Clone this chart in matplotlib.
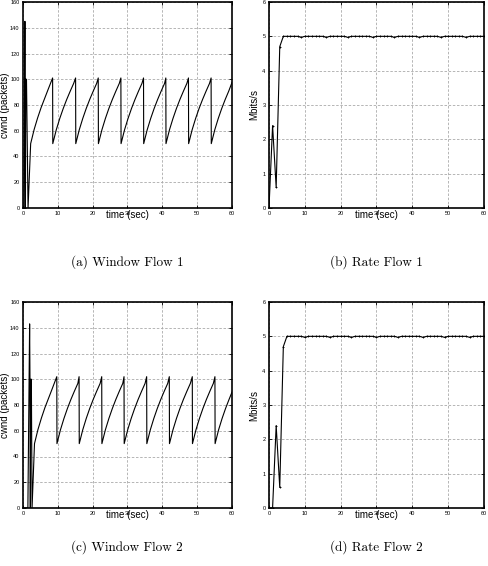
import matplotlib.pyplot as plt

# window flow 1 (time sec, cwnd packets)
win1_t = [0, 0.3, 0.55, 0.6, 0.7, 0.8, 1.0, 1.45, 2.2, 3.2, 4.2, 5.2, 6.2, 7.2, 8.5,
          8.55, 9.55, 10.55, 11.55, 12.55, 13.55, 14.55, 15.1,
          15.15, 16.15, 17.15, 18.15, 19.15, 20.15, 21.15, 21.6,
          21.65, 22.65, 23.65, 24.65, 25.65, 26.65, 27.65, 28.1,
          28.15, 29.15, 30.15, 31.15, 32.15, 33.15, 34.15, 34.6,
          34.65, 35.65, 36.65, 37.65, 38.65, 39.65, 40.65, 41.0,
          41.05, 42.05, 43.05, 44.05, 45.05, 46.05, 47.05, 47.5,
          47.55, 48.55, 49.55, 50.55, 51.55, 52.55, 53.55, 54.0,
          54.05, 55.05, 56.05, 57.05, 58.05, 59.05, 60.0]
win1_w = [0, 0, 145, 100, 0, 100, 100, 0, 50, 61, 70, 78, 85, 92, 101,
          50, 60.7, 69.5, 77.3, 84.3, 90.7, 96.8, 101,
          50, 60.7, 69.5, 77.3, 84.3, 90.7, 96.8, 101,
          50, 60.7, 69.5, 77.3, 84.3, 90.7, 96.8, 101,
          50, 60.7, 69.5, 77.3, 84.3, 90.7, 96.8, 101,
          50, 60.7, 69.5, 77.3, 84.3, 90.7, 96.8, 101,
          50, 60.7, 69.5, 77.3, 84.3, 90.7, 96.8, 101,
          50, 60.7, 69.5, 77.3, 84.3, 90.7, 96.8, 101,
          50, 60.7, 69.5, 77.3, 84.3, 90.7, 97.5]

# window flow 2
win2_t = [0, 1.4, 1.9, 2.0, 2.1, 2.2, 2.4, 2.6, 3.3, 4.3, 5.3, 6.3, 7.3, 8.3, 9.7,
          9.75, 10.75, 11.75, 12.75, 13.75, 14.75, 15.75, 16.1,
          16.15, 17.15, 18.15, 19.15, 20.15, 21.15, 22.15, 22.6,
          22.65, 23.65, 24.65, 25.65, 26.65, 27.65, 28.65, 29.0,
          29.05, 30.05, 31.05, 32.05, 33.05, 34.05, 35.05, 35.5,
          35.55, 36.55, 37.55, 38.55, 39.55, 40.55, 41.55, 42.0,
          42.05, 43.05, 44.05, 45.05, 46.05, 47.05, 48.05, 48.6,
          48.65, 49.65, 50.65, 51.65, 52.65, 53.65, 54.65, 55.1,
          55.15, 56.15, 57.15, 58.15, 59.15, 60.0]
win2_w = [0, 0, 143, 100, 0, 100, 100, 0, 50, 61, 70, 78, 85, 92, 102,
          50, 60.7, 69.5, 77.3, 84.3, 90.7, 96.8, 102,
          50, 60.7, 69.5, 77.3, 84.3, 90.7, 96.8, 102,
          50, 60.7, 69.5, 77.3, 84.3, 90.7, 96.8, 102,
          50, 60.7, 69.5, 77.3, 84.3, 90.7, 96.8, 102,
          50, 60.7, 69.5, 77.3, 84.3, 90.7, 96.8, 102,
          50, 60.7, 69.5, 77.3, 84.3, 90.7, 96.8, 102,
          50, 60.7, 69.5, 77.3, 84.3, 90.7, 96.8, 102,
          50, 60.7, 69.5, 77.3, 84.3, 90.0]

# rate per second (Mbits/s)
rate_t = list(range(61))
rate1 = [0, 2.4, 0.6, 4.7, 5.0, 5.0, 5.0, 5.0, 5.0, 4.97,
         5.0, 5.0, 5.0, 5.0, 5.0, 5.0, 4.97, 5.0, 5.0, 5.0,
         5.0, 5.0, 4.97, 5.0, 5.0, 5.0, 5.0, 5.0, 5.0, 4.97,
         5.0, 5.0, 5.0, 5.0, 5.0, 4.97, 5.0, 5.0, 5.0, 5.0,
         5.0, 5.0, 4.97, 5.0, 5.0, 5.0, 5.0, 5.0, 4.97, 5.0,
         5.0, 5.0, 5.0, 5.0, 5.0, 4.97, 5.0, 5.0, 5.0, 5.0, 5.0]
rate2 = [0, 0, 2.4, 0.6, 4.7, 5.0, 5.0, 5.0, 5.0, 5.0,
         4.97, 5.0, 5.0, 5.0, 5.0, 5.0, 5.0, 4.97, 5.0, 5.0,
         5.0, 5.0, 5.0, 4.97, 5.0, 5.0, 5.0, 5.0, 5.0, 5.0,
         4.97, 5.0, 5.0, 5.0, 5.0, 5.0, 4.97, 5.0, 5.0, 5.0,
         5.0, 5.0, 5.0, 4.97, 5.0, 5.0, 5.0, 5.0, 5.0, 4.97,
         5.0, 5.0, 5.0, 5.0, 5.0, 5.0, 4.97, 5.0, 5.0, 5.0, 5.0]

x_ticks = [0, 10, 20, 30, 40, 50, 60]
win_ticks = [0, 20, 40, 60, 80, 100, 120, 140, 160]
rate_ticks = [0, 1, 2, 3, 4, 5, 6]

captions = ["(a) Window Flow 1", "(b) Rate Flow 1", "(c) Window Flow 2", "(d) Rate Flow 2"]

SANS = ["Liberation Sans", "DejaVu Sans"]


def style_axes(ax, yticks, ylabel, ylab_x):
    ax.set_xlim(0, 60)
    ax.set_ylim(yticks[0], yticks[-1])
    ax.set_xticks(x_ticks)
    ax.set_yticks(yticks)
    ax.tick_params(direction="in", length=2.5, width=0.6, labelsize=4,
                   top=True, right=True, pad=2.5)
    for lab in ax.get_xticklabels() + ax.get_yticklabels():
        lab.set_family(SANS)
    ax.grid(True, linestyle=(0, (3, 2)), color="#aaaaaa", linewidth=0.6)
    for sp in ax.spines.values():
        sp.set_linewidth(1.2)
    ax.set_xlabel("time (sec)", fontsize=7, family=SANS)
    ax.xaxis.set_label_coords(0.5, -0.01)
    ax.set_ylabel(ylabel, fontsize=7, family=SANS)
    ax.yaxis.set_label_coords(ylab_x, 0.5)


fig = plt.figure(figsize=(4.89, 5.66), dpi=100)

ax_a = fig.add_axes([23 / 489, 1 - 208 / 566, 209 / 489, 206 / 566])
ax_b = fig.add_axes([269 / 489, 1 - 208 / 566, 215 / 489, 206 / 566])
ax_c = fig.add_axes([23 / 489, 1 - 508 / 566, 209 / 489, 206 / 566])
ax_d = fig.add_axes([269 / 489, 1 - 508 / 566, 215 / 489, 206 / 566])

ax_a.plot(win1_t, win1_w, color="black", linewidth=0.8)
ax_c.plot(win2_t, win2_w, color="black", linewidth=0.8)
ax_b.plot(rate_t, rate1, color="black", linewidth=0.8, marker="+", markersize=2, markeredgewidth=0.6)
ax_d.plot(rate_t, rate2, color="black", linewidth=0.8, marker="+", markersize=2, markeredgewidth=0.6)

style_axes(ax_a, win_ticks, "cwnd (packets)", -0.062)
style_axes(ax_c, win_ticks, "cwnd (packets)", -0.062)
style_axes(ax_b, rate_ticks, "Mbits/s", -0.047)
style_axes(ax_d, rate_ticks, "Mbits/s", -0.047)

cap_pos = [(127 / 489, 1 - 262 / 566), (376 / 489, 1 - 262 / 566),
           (127 / 489, 1 - 547 / 566), (376 / 489, 1 - 547 / 566)]
for (cx, cy), txt in zip(cap_pos, captions):
    fig.text(cx, cy, txt, ha="center", va="center", fontsize=9.5, family="cmr10")

fig.savefig("out.png", dpi=100)
